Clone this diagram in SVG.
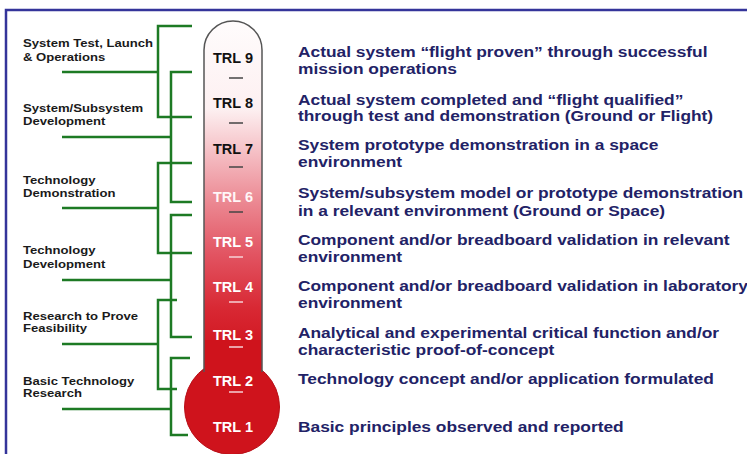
<svg xmlns="http://www.w3.org/2000/svg" width="747" height="454" viewBox="0 0 747 454">
<defs>
<linearGradient id="tubeGrad" x1="0" y1="0" x2="0" y2="454" gradientUnits="userSpaceOnUse">
<stop offset="0" stop-color="#ffffff"/>
<stop offset="0.24" stop-color="#fdf0f1"/>
<stop offset="0.34" stop-color="#f5bdc3"/>
<stop offset="0.45" stop-color="#eb8690"/>
<stop offset="0.56" stop-color="#e25462"/>
<stop offset="0.68" stop-color="#d82833"/>
<stop offset="0.78" stop-color="#d0141e"/>
<stop offset="1" stop-color="#cc121b"/>
</linearGradient>
<style>
.frame{fill:none;stroke:#34349a;stroke-width:2.5}
.br{fill:none;stroke:#1d7a24;stroke-width:2.5}
.phase{font-family:"Liberation Sans",Arial,sans-serif;font-weight:bold;font-size:11.5px;fill:#1a1a1a}
.trl{font-family:"Liberation Sans",Arial,sans-serif;font-weight:bold;font-size:14.5px;text-anchor:middle}
.dk{fill:#111111}
.wt{fill:#ffffff}
.pk{fill:#fff6f7}
.desc{font-family:"Liberation Sans",Arial,sans-serif;font-weight:bold;font-size:15.5px;fill:#222266}
.dashD{stroke:#444444;stroke-width:1.5}
.dashL{stroke:#f6d2d6;stroke-width:1.5}
</style>
</defs>
<rect width="747" height="454" fill="#ffffff"/>
<path class="frame" d="M6,454 V10 H747"/>

<g id="thermometer">
<circle cx="232" cy="407" r="47.5" fill="#cf131c" stroke="#b81018" stroke-width="1"/>
<path d="M204,372 V50 A29,29 0 0 1 262,50 V372" fill="url(#tubeGrad)" stroke="#555555" stroke-width="1.5"/>
<rect x="205" y="340" width="56" height="40" fill="#cf131c"/>
<line class="dashD" x1="229" y1="78" x2="243" y2="78"/>
<line class="dashD" x1="229" y1="123" x2="243" y2="123"/>
<line class="dashD" x1="229" y1="167" x2="243" y2="167"/>
<line class="dashD" x1="229" y1="212" x2="243" y2="212"/>
<line class="dashL" x1="229" y1="257" x2="243" y2="257"/>
<line class="dashL" x1="229" y1="302" x2="243" y2="302"/>
<line class="dashL" x1="229" y1="347" x2="243" y2="347"/>
<line class="dashL" x1="229" y1="392" x2="243" y2="392"/>
</g>

<g id="connectors">
<path class="br" d="M192,26 H158 V117 H192 M62,72 H158"/>
<path class="br" d="M192,72 H171 V202 H192 M62,137 H171"/>
<path class="br" d="M192,163 H158 V253 H192 M62,208 H158"/>
<path class="br" d="M192,215 H171 V337 H192 M62,280 H171"/>
<path class="br" d="M177,300 H158 V389 H177 M62,344 H158"/>
<path class="br" d="M190,358 H171 V435 H188 M62,409 H171"/>
</g>

<g id="phase-system-test" transform="matrix(1.14 0 0 1 -3.22 0)"><text class="phase" x="23" y="47">System Test, Launch</text><text class="phase" x="23" y="61">&amp; Operations</text></g>
<g id="phase-system-dev" transform="matrix(1.14 0 0 1 -3.22 0)"><text class="phase" x="23" y="112">System/Subsystem</text><text class="phase" x="23" y="125">Development</text></g>
<g id="phase-tech-demo" transform="matrix(1.14 0 0 1 -3.22 0)"><text class="phase" x="23" y="184">Technology</text><text class="phase" x="23" y="197">Demonstration</text></g>
<g id="phase-tech-dev" transform="matrix(1.14 0 0 1 -3.22 0)"><text class="phase" x="23" y="254">Technology</text><text class="phase" x="23" y="268">Development</text></g>
<g id="phase-research" transform="matrix(1.14 0 0 1 -3.22 0)"><text class="phase" x="23" y="320">Research to Prove</text><text class="phase" x="23" y="332">Feasibility</text></g>
<g id="phase-basic" transform="matrix(1.14 0 0 1 -3.22 0)"><text class="phase" x="23" y="385">Basic Technology</text><text class="phase" x="23" y="397">Research</text></g>

<g id="trl9"><text class="trl dk" x="233" y="63">TRL 9</text><g transform="matrix(1.12 0 0 1 -35.76 0)"><text class="desc" x="298" y="57">Actual system “flight proven” through successful</text><text class="desc" x="298" y="74">mission operations</text></g></g>
<g id="trl8"><text class="trl dk" x="233" y="108">TRL 8</text><g transform="matrix(1.12 0 0 1 -35.76 0)"><text class="desc" x="298" y="105">Actual system completed and “flight qualified”</text><text class="desc" x="298" y="121">through test and demonstration (Ground or Flight)</text></g></g>
<g id="trl7"><text class="trl dk" x="233" y="154">TRL 7</text><g transform="matrix(1.12 0 0 1 -35.76 0)"><text class="desc" x="298" y="150">System prototype demonstration in a space</text><text class="desc" x="298" y="167">environment</text></g></g>
<g id="trl6"><text class="trl pk" x="233" y="202">TRL 6</text><g transform="matrix(1.12 0 0 1 -35.76 0)"><text class="desc" x="298" y="198">System/subsystem model or prototype demonstration</text><text class="desc" x="298" y="216">in a relevant environment (Ground or Space)</text></g></g>
<g id="trl5"><text class="trl wt" x="233" y="247">TRL 5</text><g transform="matrix(1.12 0 0 1 -35.76 0)"><text class="desc" x="298" y="245">Component and/or breadboard validation in relevant</text><text class="desc" x="298" y="262">environment</text></g></g>
<g id="trl4"><text class="trl wt" x="233" y="292">TRL 4</text><g transform="matrix(1.12 0 0 1 -35.76 0)"><text class="desc" x="298" y="291">Component and/or breadboard validation in laboratory</text><text class="desc" x="298" y="308">environment</text></g></g>
<g id="trl3"><text class="trl wt" x="233" y="340">TRL 3</text><g transform="matrix(1.12 0 0 1 -35.76 0)"><text class="desc" x="298" y="338">Analytical and experimental critical function and/or</text><text class="desc" x="298" y="355">characteristic proof-of-concept</text></g></g>
<g id="trl2"><text class="trl wt" x="233" y="386">TRL 2</text><g transform="matrix(1.12 0 0 1 -35.76 0)"><text class="desc" x="298" y="384">Technology concept and/or application formulated</text></g></g>
<g id="trl1"><text class="trl wt" x="233" y="432">TRL 1</text><g transform="matrix(1.12 0 0 1 -35.76 0)"><text class="desc" x="298" y="432">Basic principles observed and reported</text></g></g>
</svg>
